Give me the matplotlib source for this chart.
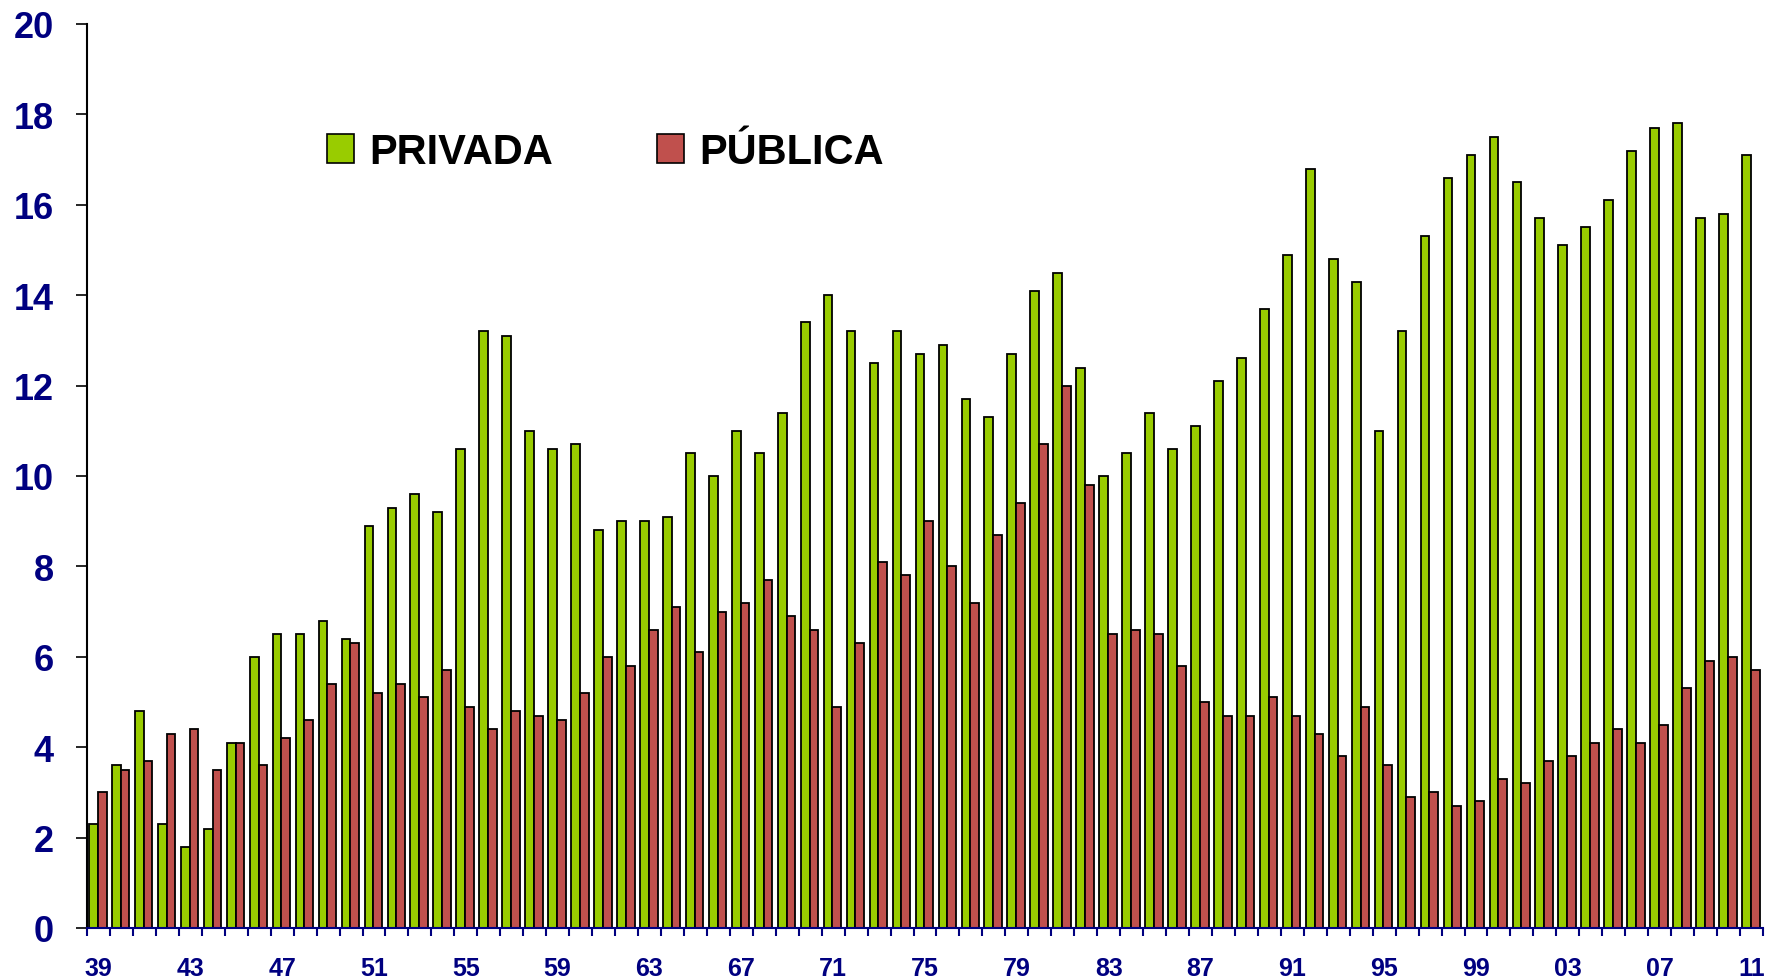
import numpy as np
import matplotlib
matplotlib.use("Agg")
import matplotlib.pyplot as plt
import matplotlib.patches as mpatches
from matplotlib.ticker import FixedLocator, NullFormatter

# Years 1939-2011 (labels show the last two digits)
years = list(range(1939, 2012))

privada = [
    2.3, 3.6, 4.8, 2.3, 1.8, 2.2, 4.1, 6.0, 6.5, 6.5,      # 39-48
    6.8, 6.4, 8.9, 9.3, 9.6, 9.2, 10.6, 13.2, 13.1, 11.0,  # 49-58
    10.6, 10.7, 8.8, 9.0, 9.0, 9.1, 10.5, 10.0, 11.0, 10.5,  # 59-68
    11.4, 13.4, 14.0, 13.2, 12.5, 13.2, 12.7, 12.9, 11.7, 11.3,  # 69-78
    12.7, 14.1, 14.5, 12.4, 10.0, 10.5, 11.4, 10.6, 11.1, 12.1,  # 79-88
    12.6, 13.7, 14.9, 16.8, 14.8, 14.3, 11.0, 13.2, 15.3, 16.6,  # 89-98
    17.1, 17.5, 16.5, 15.7, 15.1, 15.5, 16.1, 17.2, 17.7, 17.8,  # 99-08
    15.7, 15.8, 17.1,                                            # 09-11
]

publica = [
    3.0, 3.5, 3.7, 4.3, 4.4, 3.5, 4.1, 3.6, 4.2, 4.6,
    5.4, 6.3, 5.2, 5.4, 5.1, 5.7, 4.9, 4.4, 4.8, 4.7,
    4.6, 5.2, 6.0, 5.8, 6.6, 7.1, 6.1, 7.0, 7.2, 7.7,
    6.9, 6.6, 4.9, 6.3, 8.1, 7.8, 9.0, 8.0, 7.2, 8.7,
    9.4, 10.7, 12.0, 9.8, 6.5, 6.6, 6.5, 5.8, 5.0, 4.7,
    4.7, 5.1, 4.7, 4.3, 3.8, 4.9, 3.6, 2.9, 3.0, 2.7,
    2.8, 3.3, 3.2, 3.7, 3.8, 4.1, 4.4, 4.1, 4.5, 5.3,
    5.9, 6.0, 5.7,
]

labels = ["PRIVADA", "PÚBLICA"]
colors = ["#99CC00", "#C0504D"]
navy = "#000080"

plt.rcParams["font.family"] = ["Liberation Sans", "DejaVu Sans"]

fig = plt.figure(figsize=(17.67, 9.79), dpi=100, facecolor="white")
ax = fig.add_axes([87 / 1767, 50 / 979, (1763 - 87) / 1767, (929 - 25) / 979])

x = np.arange(len(years))
bw = 0.38
ax.bar(x - 0.22, privada, width=bw, color=colors[0], edgecolor="black", linewidth=1.3, label=labels[0])
ax.bar(x + 0.16, publica, width=bw, color=colors[1], edgecolor="black", linewidth=1.3, label=labels[1])

ax.set_xlim(-0.5, len(years) - 0.5)
ax.set_ylim(0, 20)

# y axis
ax.set_yticks(np.arange(0, 21, 2))
ax.tick_params(axis="y", direction="out", length=8, width=1.2, color="black", pad=16,
               labelsize=26, labelcolor=navy)
for t in ax.get_yticklabels():
    t.set_fontweight("bold")

# x axis: labels every 4 years, ticks at category boundaries
ax.xaxis.set_major_locator(FixedLocator(x[::4]))
ax.set_xticklabels([f"{y % 100:02d}" for y in years[::4]], fontsize=18, fontweight="bold", color=navy)
ax.tick_params(axis="x", which="major", length=0, pad=20)
ax.xaxis.set_minor_locator(FixedLocator(np.arange(-0.5, len(years), 1.0)))
ax.xaxis.set_minor_formatter(NullFormatter())
ax.tick_params(axis="x", which="minor", direction="out", length=6, width=1.5, color=navy)

ax.spines["top"].set_visible(False)
ax.spines["right"].set_visible(False)
ax.spines["left"].set_color("black")
ax.spines["left"].set_linewidth(1.5)
ax.spines["bottom"].set_color(navy)
ax.spines["bottom"].set_linewidth(1.5)

handles = [mpatches.Patch(facecolor=c, edgecolor="black", linewidth=1.2, label=l)
           for c, l in zip(colors, labels)]
fig.legend(
    handles=handles,
    loc="center left",
    bbox_to_anchor=(327 / 1767, 1 - 153 / 979),
    bbox_transform=fig.transFigure,
    ncol=2,
    frameon=False,
    prop={"size": 30, "weight": "bold"},
    handlelength=0.65,
    handleheight=0.7,
    handletextpad=0.36,
    columnspacing=2.5,
    borderpad=0,
    borderaxespad=0,
)

fig.savefig("out.png", dpi=100, facecolor="white")
